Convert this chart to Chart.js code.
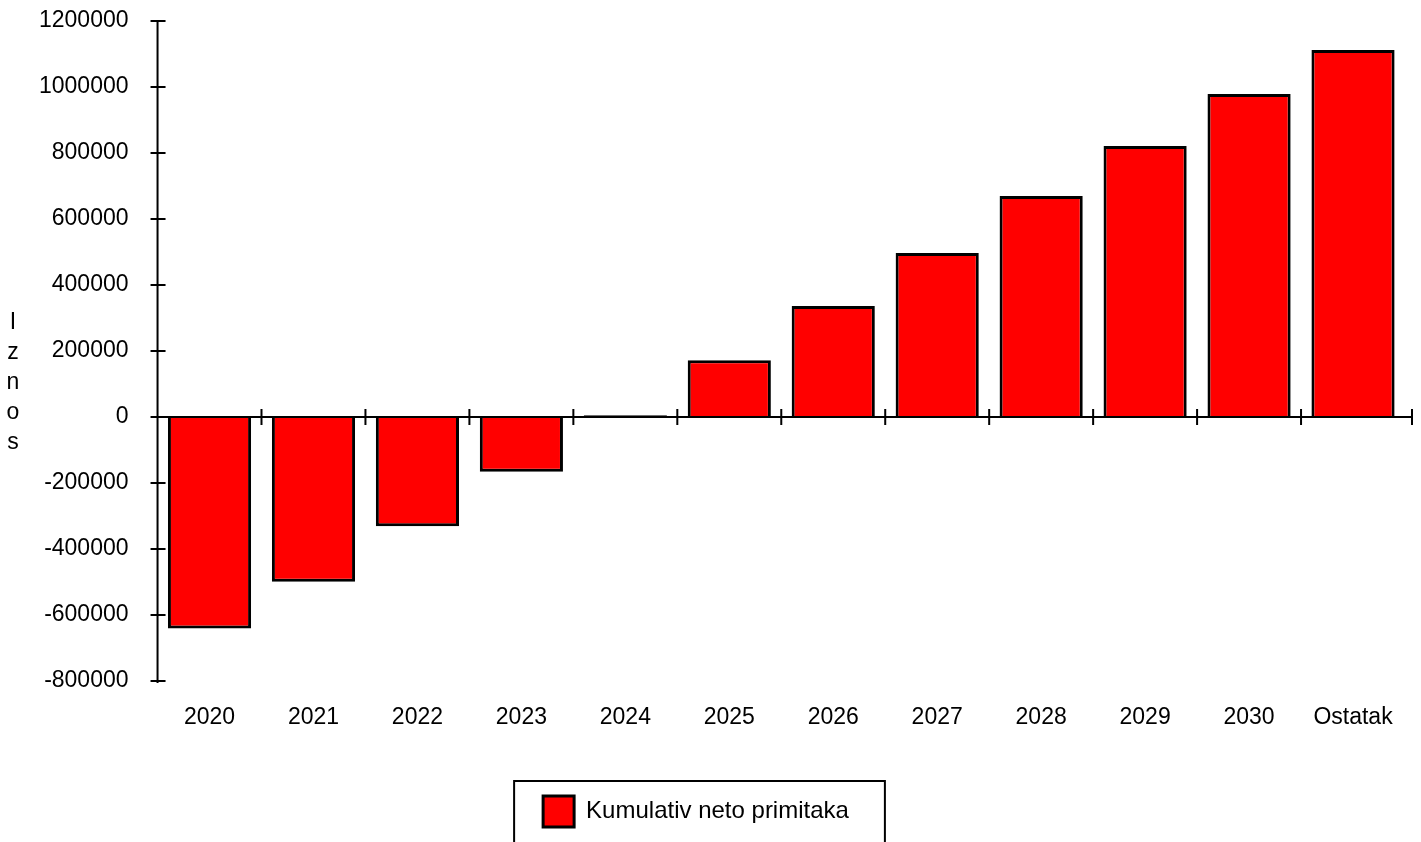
<!DOCTYPE html>
<html>
<head>
<meta charset="utf-8">
<title>Kumulativ neto primitaka</title>
<script src="https://cdn.jsdelivr.net/npm/chart.js@4"></script>
<style>
  html, body { margin: 0; padding: 0; background: #fff; overflow: hidden; }
  #chart { display: block; }
</style>
</head>
<body>
<canvas id="chart" width="1421" height="842"></canvas>
<script>
// Data
const categories = ['2020', '2021', '2022', '2023', '2024', '2025', '2026', '2027', '2028', '2029', '2030', 'Ostatak'];
const cumulativeNet = [-641000, -499000, -331000, -166000, 5000, 172000, 336000, 497000, 670000, 821000, 979000, 1112000];
const seriesName = 'Kumulativ neto primitaka';
const axisTitle = 'Iznos';
const yMin = -800000;
const yMax = 1200000;
const yStep = 200000;

const FONT = '"Liberation Sans", Arial, sans-serif';
const LEGEND_CENTER = 696;

// Axis lines with crossing ticks, the stacked axis title and the legend frame
const axisDecor = {
    id: 'axisDecor',
    afterLayout(chart) {
        // move the legend so it sits where the original one was
        const lg = chart.legend;
        const shift = LEGEND_CENTER - (lg.left + lg.right) / 2;
        lg.left += shift;
        lg.right += shift;
        lg.legendHitBoxes.forEach(h => { h.left += shift; });
    },
    afterDatasetsDraw(chart) {
        const { ctx, chartArea, scales: { x, y } } = chart;
        ctx.save();
        ctx.strokeStyle = '#000';
        ctx.lineWidth = 2;
        ctx.beginPath();

        // y axis and its ticks
        ctx.moveTo(chartArea.left, chartArea.top);
        ctx.lineTo(chartArea.left, chartArea.bottom + 2);
        y.ticks.forEach(t => {
            const py = y.getPixelForValue(t.value);
            ctx.moveTo(chartArea.left - 7, py);
            ctx.lineTo(chartArea.left + 8, py);
        });

        // x axis line at zero, with ticks between categories
        const zy = y.getPixelForValue(0);
        ctx.moveTo(chartArea.left, zy);
        ctx.lineTo(chartArea.right + 7, zy);
        for (let i = 1; i <= categories.length; i++) {
            const px = i < categories.length
                ? (x.getPixelForValue(i - 1) + x.getPixelForValue(i)) / 2
                : chartArea.right + 7;
            ctx.moveTo(px, zy - 8);
            ctx.lineTo(px, zy + 8);
        }
        ctx.stroke();

        // vertical letters of the y title
        ctx.fillStyle = '#000';
        ctx.font = '23px ' + FONT;
        ctx.textAlign = 'center';
        ctx.textBaseline = 'middle';
        const letters = axisTitle.split('');
        const midY = (chartArea.top + chartArea.bottom) / 2 + 32;
        letters.forEach((ch, i) => {
            ctx.fillText(ch, 13, midY + (i - (letters.length - 1) / 2) * 30);
        });
        ctx.restore();
    },
    afterDraw(chart) {
        const legend = chart.legend;
        if (!legend) return;
        const { ctx } = chart;
        ctx.save();
        ctx.font = '24px ' + FONT;
        const itemW = 31 + 12 + ctx.measureText(seriesName).width;
        const itemX = (legend.left + legend.right) / 2 - itemW / 2;
        ctx.strokeStyle = '#000';
        ctx.lineWidth = 2;
        ctx.strokeRect(itemX - 29, legend.top, itemW + 65, 80);
        ctx.restore();
    }
};

const ctx = document.getElementById('chart');

new Chart(ctx, {
    type: 'bar',
    data: {
        labels: categories,
        datasets: [{
            label: seriesName,
            data: cumulativeNet,
            backgroundColor: '#ff0000',
            borderColor: '#000000',
            borderWidth: 3,
            barPercentage: 0.8,
            categoryPercentage: 1.0
        }]
    },
    options: {
        responsive: false,
        animation: false,
        layout: {
            padding: { top: 21, left: 39, right: 16, bottom: 5 }
        },
        scales: {
            x: {
                grid: { display: false, drawTicks: false },
                border: { display: false },
                ticks: {
                    color: '#000',
                    font: { family: FONT, size: 23 },
                    padding: 23,
                    maxRotation: 0
                },
                afterFit(scale) {
                    scale.height = 100;
                }
            },
            y: {
                min: yMin,
                max: yMax,
                // invisible tick marks only reserve the gap between labels and axis
                grid: {
                    display: true,
                    drawOnChartArea: false,
                    drawTicks: true,
                    tickLength: 29,
                    color: 'rgba(0,0,0,0)'
                },
                border: { display: false },
                ticks: {
                    stepSize: yStep,
                    color: '#000',
                    font: { family: FONT, size: 23 },
                    padding: 0,
                    callback: v => String(v)
                }
            }
        },
        plugins: {
            legend: {
                position: 'bottom',
                labels: {
                    boxWidth: 31,
                    boxHeight: 31,
                    padding: 15,
                    color: '#000',
                    font: { family: FONT, size: 24 }
                }
            },
            tooltip: { enabled: false }
        }
    },
    plugins: [axisDecor]
});
</script>
</body>
</html>
